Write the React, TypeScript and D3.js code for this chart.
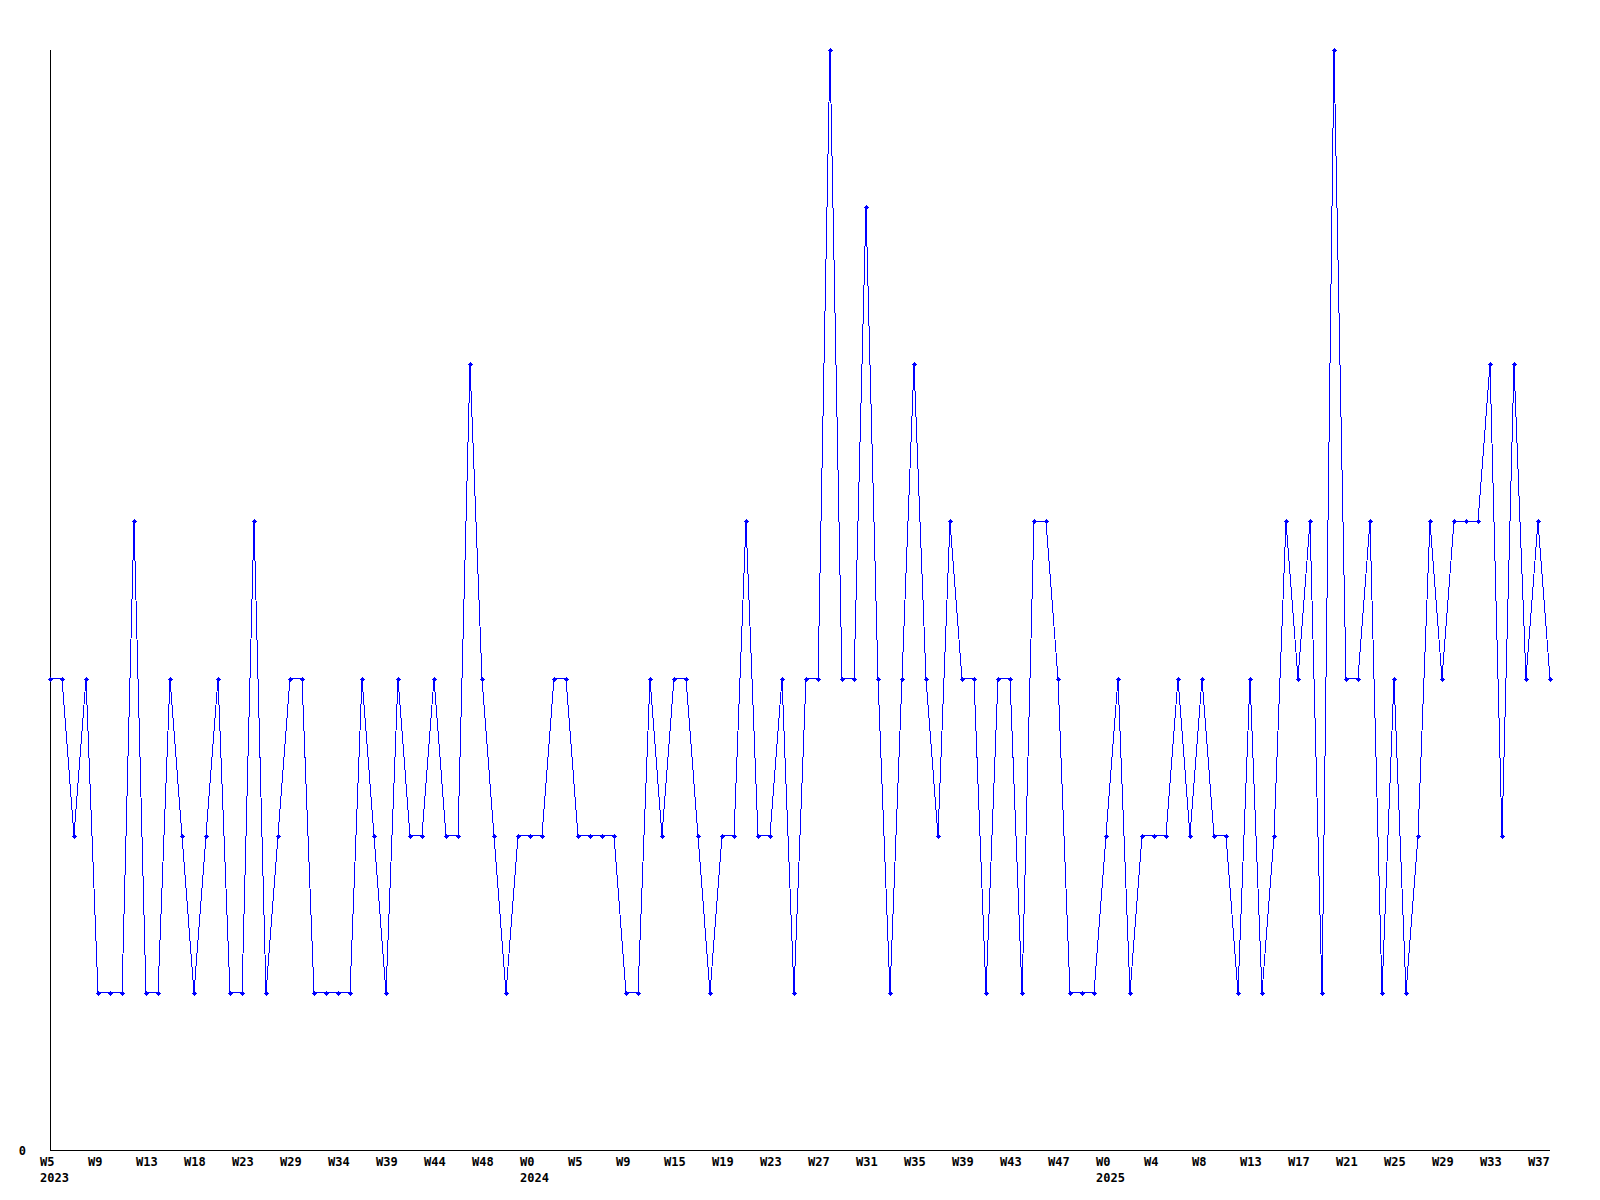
import React from "react";
import * as d3 from "d3";

// Weekly counts (one point per week)
const values: number[] = [
  3, 3, 2, 3, 1, 1, 1, 4, 1, 1,
  3, 2, 1, 2, 3, 1, 1, 4, 1, 2,
  3, 3, 1, 1, 1, 1, 3, 2, 1, 3,
  2, 2, 3, 2, 2, 5, 3, 2, 1, 2,
  2, 2, 3, 3, 2, 2, 2, 2, 1, 1,
  3, 2, 3, 3, 2, 1, 2, 2, 4, 2,
  2, 3, 1, 3, 3, 7, 3, 3, 6, 3,
  1, 3, 5, 3, 2, 4, 3, 3, 1, 3,
  3, 1, 4, 4, 3, 1, 1, 1, 2, 3,
  1, 2, 2, 2, 3, 2, 3, 2, 2, 1,
  3, 1, 2, 4, 3, 4, 1, 7, 3, 3,
  4, 1, 3, 1, 2, 4, 3, 4, 4, 4,
  5, 2, 5, 3, 4, 3,
];

// Tick labels, one every 4 points
const tickWeeks: string[] = [
  "W5", "W9", "W13", "W18", "W23", "W29", "W34", "W39", "W44", "W48",
  "W0", "W5", "W9", "W15", "W19", "W23", "W27", "W31", "W35", "W39",
  "W43", "W47", "W0", "W4", "W8", "W13", "W17", "W21", "W25", "W29",
  "W33", "W37",
];
const tickYears: string[] = [
  "2023", "", "", "", "", "", "", "", "", "",
  "2024", "", "", "", "", "", "", "", "", "",
  "", "", "2025", "", "", "", "", "", "", "",
  "", "",
];
const tickStep = 4;
const yMax = 7;
const yTickLabels: number[] = [0];

const W = 1600;
const H = 1200;
const left = 50;
const right = 1550;
const top = 50;
const bottom = 1150;
const FONT = "'DejaVu Sans Mono', 'Liberation Mono', monospace";

export default function App() {
  const x = d3.scaleLinear().domain([0, values.length - 1]).range([left, right]);
  const y = d3.scaleLinear().domain([0, yMax]).range([bottom, top]);
  const line = d3
    .line<number>()
    .x((_, i) => x(i))
    .y((d) => y(d));
  const path = line(values) || "";

  return (
    <svg
      width={W}
      height={H}
      viewBox={`0 0 ${W} ${H}`}
      style={{ position: "absolute", left: 0, top: 0, background: "#fff" }}
    >
      <rect x={0} y={0} width={W} height={H} fill="#fff" />
      {/* axes */}
      <line x1={left + 0.5} y1={top} x2={left + 0.5} y2={bottom} stroke="#000" strokeWidth={1} shapeRendering="crispEdges" />
      <line x1={left} y1={bottom + 0.5} x2={right} y2={bottom + 0.5} stroke="#000" strokeWidth={1} shapeRendering="crispEdges" />
      {yTickLabels.map((v) => (
        <text
          key={v}
          x={26}
          y={y(v) + 5}
          textAnchor="end"
          fontFamily={FONT}
          fontWeight="bold"
          fontSize={12}
          fill="#000"
        >
          {v}
        </text>
      ))}
      {tickWeeks.map((w, k) => {
        const tx = x(k * tickStep) - 10;
        return (
          <g key={k}>
            <text x={tx} y={1166} fontFamily={FONT} fontWeight="bold" fontSize={12} fill="#000">
              {w}
            </text>
            {tickYears[k] ? (
              <text x={tx} y={1182} fontFamily={FONT} fontWeight="bold" fontSize={12} fill="#000">
                {tickYears[k]}
              </text>
            ) : null}
          </g>
        );
      })}
      {/* series */}
      <path d={path} fill="none" stroke="#0000ff" strokeWidth={1} shapeRendering="crispEdges" />
      {values.map((v, i) => {
        const cx = Math.round(x(i)) + 0.5;
        const cy = Math.round(y(v)) + 0.5;
        return (
          <g key={i} shapeRendering="crispEdges">
            <path
              d={`M${cx - 2.5},${cy}H${cx + 2.5}M${cx},${cy - 2.5}V${cy + 2.5}`}
              stroke="#0000ff"
              strokeWidth={1}
            />
            <rect x={cx - 1.5} y={cy - 1.5} width={3} height={3} fill="#0000ff" />
          </g>
        );
      })}
    </svg>
  );
}
